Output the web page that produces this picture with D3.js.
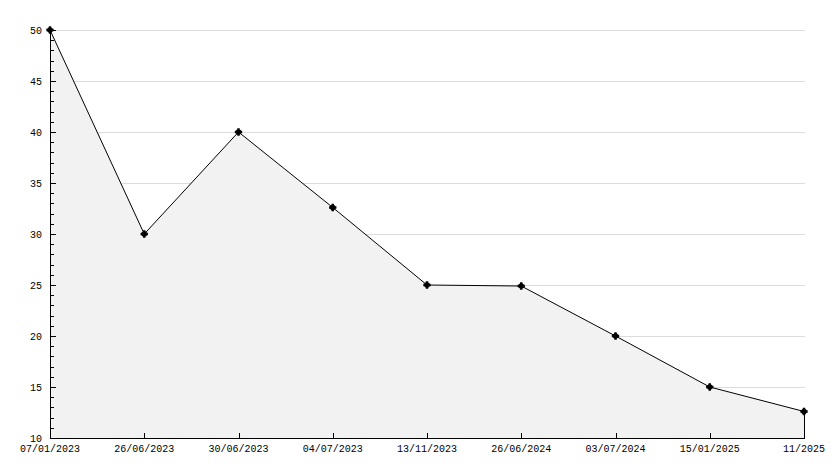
<!DOCTYPE html>
<html>
<head>
<meta charset="utf-8">
<script src="https://cdnjs.cloudflare.com/ajax/libs/d3/7.8.5/d3.min.js"></script>
<style>
  html, body { margin: 0; padding: 0; background: #fff; }
  svg text { font-family: "Liberation Mono", "DejaVu Sans Mono", monospace; font-size: 10px; fill: #000; }
</style>
</head>
<body>
<svg id="chart" width="834" height="468"></svg>
<script>
  // chart data
  var dates = ["07/01/2023", "26/06/2023", "30/06/2023", "04/07/2023", "13/11/2023",
               "26/06/2024", "03/07/2024", "15/01/2025", "11/2025"];
  var values = [50, 30, 40, 32.6, 25, 24.9, 20, 15, 12.6];
  var yTicks = [10, 15, 20, 25, 30, 35, 40, 45, 50];

  // note: "top" is a read-only window global, so use prefixed names
  var svg = d3.select("#chart"),
    plotLeft = 50, plotRight = 804, plotTop = 30, plotBottom = 438;

  var x = d3.scalePoint().domain(dates).range([plotLeft, plotRight]);
  var y = d3.scaleLinear().domain([10, 50]).range([plotBottom, plotTop]);

  // grid lines
  svg.append("g")
    .attr("shape-rendering", "crispEdges")
    .selectAll("line")
    .data(yTicks.slice(1))
    .enter().append("line")
    .attr("x1", plotLeft).attr("x2", plotRight + 1)
    .attr("y1", function(d) { return Math.round(y(d)) + 0.5; })
    .attr("y2", function(d) { return Math.round(y(d)) + 0.5; })
    .attr("stroke", "#dcdcdc");

  // area under line
  var area = d3.area()
    .x(function(d, i) { return x(dates[i]); })
    .y0(y(10))
    .y1(function(d) { return y(d); });

  svg.append("path")
    .datum(values)
    .attr("d", area)
    .attr("fill", "#f2f2f2");

  var line = d3.line()
    .x(function(d, i) { return x(dates[i]); })
    .y(function(d) { return y(d); });

  svg.append("path")
    .datum(values)
    .attr("d", line)
    .attr("fill", "none")
    .attr("stroke", "#000")
    .attr("stroke-width", 1);

  // right closing edge of the area
  var last = values.length - 1;
  svg.append("line")
    .attr("x1", x(dates[last]) + 0.5).attr("x2", x(dates[last]) + 0.5)
    .attr("y1", y(values[last])).attr("y2", plotBottom)
    .attr("stroke", "#000");

  // y axis with minor ticks pointing inside
  var ya = svg.append("g").attr("shape-rendering", "crispEdges");
  ya.append("line")
    .attr("x1", plotLeft + 0.5).attr("x2", plotLeft + 0.5)
    .attr("y1", plotTop).attr("y2", plotBottom + 1)
    .attr("stroke", "#000");
  ya.selectAll("line.minor")
    .data(d3.range(10, 51))
    .enter().append("line")
    .attr("class", "minor")
    .attr("x1", plotLeft)
    .attr("x2", function(d) { return plotLeft + (d % 5 === 0 ? 6 : 4); })
    .attr("y1", function(d) { return Math.round(y(d)) + 0.5; })
    .attr("y2", function(d) { return Math.round(y(d)) + 0.5; })
    .attr("stroke", "#000");
  ya.selectAll("text")
    .data(yTicks)
    .enter().append("text")
    .attr("x", plotLeft - 8)
    .attr("y", function(d) { return y(d); })
    .attr("dy", "0.35em")
    .attr("text-anchor", "end")
    .text(function(d) { return d; });

  // x axis, ticks pointing up
  var xa = svg.append("g").attr("shape-rendering", "crispEdges");
  xa.append("line")
    .attr("x1", plotLeft).attr("x2", plotRight + 1)
    .attr("y1", plotBottom + 0.5).attr("y2", plotBottom + 0.5)
    .attr("stroke", "#000");
  xa.selectAll("line.tick")
    .data(dates)
    .enter().append("line")
    .attr("class", "tick")
    .attr("x1", function(d) { return Math.round(x(d)) + 0.5; })
    .attr("x2", function(d) { return Math.round(x(d)) + 0.5; })
    .attr("y1", plotBottom - 5).attr("y2", plotBottom)
    .attr("stroke", "#000");
  xa.selectAll("text")
    .data(dates)
    .enter().append("text")
    .attr("x", function(d) { return x(d); })
    .attr("y", plotBottom + 14)
    .attr("text-anchor", "middle")
    .text(function(d) { return d; });

  // point markers
  svg.append("g")
    .selectAll("path")
    .data(values)
    .enter().append("path")
    .attr("transform", function(d, i) { return "translate(" + x(dates[i]) + "," + y(d) + ")"; })
    .attr("d", d3.symbol().type(d3.symbolCross).size(30))
    .attr("fill", "#000");
  svg.append("g")
    .selectAll("circle")
    .data(values)
    .enter().append("circle")
    .attr("cx", function(d, i) { return x(dates[i]); })
    .attr("cy", function(d) { return y(d); })
    .attr("r", 2.8)
    .attr("fill", "#000");
</script>
</body>
</html>
